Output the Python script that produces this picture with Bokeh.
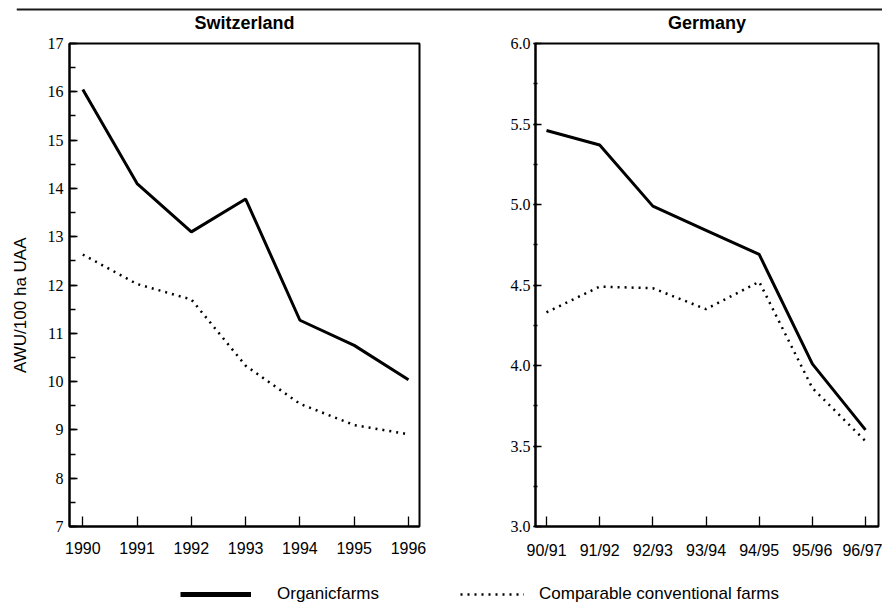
from bokeh.plotting import figure
from bokeh.layouts import column, row
from bokeh.models import (Range1d, FixedTicker, SingleIntervalTicker, PrintfTickFormatter,
                          Label, Legend, LegendItem, Span)
from bokeh.embed import file_html
from bokeh.resources import INLINE
import math

# ---------------- data ----------------
years_ch = [1990, 1991, 1992, 1993, 1994, 1995, 1996]
ch_organic = [16.05, 14.1, 13.1, 13.78, 11.27, 10.75, 10.04]
ch_conventional = [12.63, 12.02, 11.7, 10.33, 9.54, 9.1, 8.91]

seasons_de = ["90/91", "91/92", "92/93", "93/94", "94/95", "95/96", "96/97"]
de_organic = [5.46, 5.37, 4.99, 4.84, 4.69, 4.01, 3.6]
de_conventional = [4.33, 4.49, 4.48, 4.35, 4.52, 3.86, 3.53]

title_ch = "Switzerland"
title_de = "Germany"
y_label = "AWU/100 ha UAA"
legend_labels = ["Organicfarms", "Comparable conventional farms"]

SERIF = "Liberation Serif"
SANS = "Liberation Sans"
DOT = "2 5"


def bare(p):
    p.grid.visible = False
    p.outline_line_color = None
    p.background_fill_color = "white"
    p.border_fill_color = "white"


def style(p):
    p.grid.visible = False
    p.outline_line_color = "black"
    p.outline_line_width = 2
    p.background_fill_color = "white"
    p.border_fill_color = "white"
    for ax in (p.xaxis[0], p.yaxis[0]):
        ax.axis_line_width = 2
        ax.axis_line_color = "black"
        ax.major_tick_line_color = "black"
        ax.minor_tick_line_color = "black"
        ax.major_tick_line_width = 1.3
        ax.minor_tick_line_width = 1.3
        ax.major_label_text_color = "black"
    p.xaxis.major_label_text_font = SANS
    p.xaxis.major_label_text_font_size = "16px"
    p.xaxis.major_tick_in = 10
    p.xaxis.major_tick_out = 0
    p.xaxis.major_label_standoff = 15
    p.yaxis.major_label_text_font = SERIF
    p.yaxis.major_label_text_font_size = "16px"


# ---------------- header strip: rule + panel titles ----------------
top = figure(width=882, height=35, toolbar_location=None, output_backend="svg",
             x_axis_location=None, y_axis_location=None,
             min_border_left=16, min_border_right=0, min_border_top=0, min_border_bottom=0,
             x_range=Range1d(0, 866), y_range=Range1d(0, 35))
bare(top)
top.add_layout(Span(location=26, dimension="width", line_color="#1a1a1a", line_width=2))
for txt, cx in ((title_ch, 228), (title_de, 690.5)):
    top.add_layout(Label(x=cx, y=13, text=txt, text_align="center", text_baseline="middle",
                         text_font=SANS, text_font_style="bold", text_font_size="18px",
                         text_color="black"))

# ---------------- y-axis title strip ----------------
ylab = figure(width=40, height=526, toolbar_location=None, output_backend="svg",
              x_axis_location=None, y_axis_location=None,
              min_border_left=0, min_border_right=0, min_border_top=0, min_border_bottom=0,
              x_range=Range1d(0, 40), y_range=Range1d(0, 526))
bare(ylab)
ylab.add_layout(Label(x=19.5, y=241, text=y_label, angle=math.pi / 2,
                      text_align="center", text_baseline="middle",
                      text_font=SANS, text_font_size="17px", text_color="black"))

# ---------------- Switzerland ----------------
p1 = figure(width=408, height=526, toolbar_location=None, output_backend="svg",
            x_range=Range1d(1989.755, 1996.203), y_range=Range1d(7, 17),
            min_border_left=29, min_border_right=29, min_border_top=8, min_border_bottom=35)
style(p1)
p1.line(years_ch, ch_organic, line_color="black", line_width=3)
p1.line(years_ch, ch_conventional, line_color="black", line_width=2.5, line_dash=DOT)
p1.xaxis.ticker = FixedTicker(ticks=years_ch)
p1.yaxis.ticker = SingleIntervalTicker(interval=1, num_minor_ticks=2)
p1.yaxis.major_tick_in = 8
p1.yaxis.major_tick_out = 0
p1.yaxis.minor_tick_in = 6
p1.yaxis.minor_tick_out = 0
p1.yaxis.major_label_standoff = 6

# ---------------- Germany ----------------
idx_de = list(range(len(seasons_de)))
p2 = figure(width=434, height=526, toolbar_location=None, output_backend="svg",
            x_range=Range1d(-0.207, 6.244), y_range=Range1d(3.0, 6.0),
            min_border_left=87, min_border_right=4, min_border_top=8, min_border_bottom=35)
style(p2)
p2.line(idx_de, de_organic, line_color="black", line_width=3)
p2.line(idx_de, de_conventional, line_color="black", line_width=2.5, line_dash=DOT)
p2.xaxis.ticker = FixedTicker(ticks=idx_de)
p2.xaxis.major_label_overrides = {i: s for i, s in zip(idx_de, seasons_de)}
p2.yaxis.ticker = SingleIntervalTicker(interval=0.5, num_minor_ticks=2)
p2.yaxis.formatter = PrintfTickFormatter(format="%.1f")
p2.yaxis.major_tick_in = 6
p2.yaxis.major_tick_out = 2
p2.yaxis.minor_tick_in = 2
p2.yaxis.minor_tick_out = 2
p2.yaxis.major_label_standoff = 3

# ---------------- legend strip ----------------
leg = figure(width=882, height=43, toolbar_location=None, output_backend="svg",
             x_axis_location=None, y_axis_location=None,
             min_border_left=0, min_border_right=0, min_border_top=0, min_border_bottom=0,
             x_range=Range1d(0, 1), y_range=Range1d(0, 1))
bare(leg)
# legend proxies: same series, lying outside this strip's ranges so only the keys show
d1 = leg.line(years_ch, ch_organic, line_color="black", line_width=5)
d2 = leg.line(years_ch, ch_conventional, line_color="black", line_width=2.5, line_dash=DOT)


def make_legend(item, loc, gw, standoff):
    lg = Legend(items=[item], location=loc, orientation="horizontal",
                glyph_width=gw, glyph_height=20, label_height=20, label_standoff=standoff,
                padding=0, margin=0, spacing=0, border_line_color=None,
                background_fill_alpha=0, label_text_font=SANS, label_text_font_size="17px",
                label_text_color="black", label_text_baseline="middle")
    leg.add_layout(lg, "center")


make_legend(LegendItem(label=legend_labels[0], renderers=[d1]), (164, 0), 71, 26)
make_legend(LegendItem(label=legend_labels[1], renderers=[d2]), (444, 0), 64, 15)

layout = column(top, row(ylab, p1, p2), leg, spacing=0)
open("out.html", "w").write(file_html(layout, INLINE))
